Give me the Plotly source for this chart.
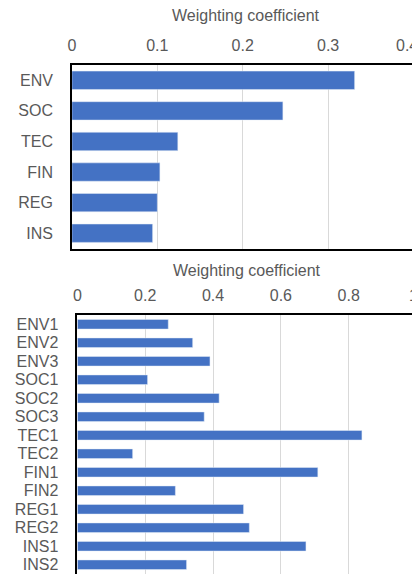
import plotly.graph_objects as go

dims = ["ENV", "SOC", "TEC", "FIN", "REG", "INS"]
dim_w = [0.331, 0.247, 0.124, 0.103, 0.100, 0.0945]

subs = ["ENV1", "ENV2", "ENV3", "SOC1", "SOC2", "SOC3", "TEC1", "TEC2",
        "FIN1", "FIN2", "REG1", "REG2", "INS1", "INS2"]
sub_w = [0.268, 0.340, 0.391, 0.207, 0.418, 0.374, 0.839, 0.163,
         0.709, 0.289, 0.490, 0.507, 0.674, 0.322]

top_ticks = [0, 0.1, 0.2, 0.3, 0.4]
bot_ticks = [0, 0.2, 0.4, 0.6, 0.8, 1]
axis_title = "Weighting coefficient"

BLUE = "#4472C4"
GRAY = "#595959"
FONT = "Liberation Sans, Arial, sans-serif"
FS = 16

fig = go.Figure()
fig.add_trace(go.Bar(y=dims, x=dim_w, orientation="h", marker_color=BLUE,
                     width=0.6, xaxis="x", yaxis="y", showlegend=False))
fig.add_trace(go.Bar(y=subs, x=sub_w, orientation="h", marker_color=BLUE,
                     width=0.52, xaxis="x2", yaxis="y2", showlegend=False))

# page body has an 8px margin; figure is placed at (8, 8)
OFF = 8
W, H = 420 - OFF, 574 - OFF

def px_x(p):
    return (p - OFF) / W

def px_y(p):
    return 1 - (p - OFF) / H

tfont = dict(family=FONT, size=FS, color=GRAY)
xcommon = dict(side="top", showgrid=True, gridcolor="#d9d9d9", gridwidth=1,
               zeroline=False, showline=True, linecolor="black", linewidth=1.5,
               tickfont=tfont, ticks="", ticklabelstandoff=6)
ycommon = dict(autorange="reversed", showgrid=False, zeroline=False,
               showline=True, linecolor="black", linewidth=1.5, mirror=True,
               tickfont=tfont, ticks="", ticklabelstandoff=14,
               tickmode="linear", dtick=1)

# last tick labels sit at the right page edge; plotly hides them there,
# so they are written as edge-anchored text instead
edge_labels = [
    dict(text=f"{top_ticks[-1]:g}", x=1, y=px_y(45), xanchor="right"),
    dict(text=f"{bot_ticks[-1]:g}", x=1, y=px_y(295), xanchor="right"),
]

annotations = [
    dict(text=axis_title, x=px_x(244), y=px_y(16), xanchor="center"),
    dict(text=axis_title, x=px_x(245), y=px_y(270), xanchor="center"),
] + edge_labels
for a in annotations:
    a.update(xref="paper", yref="paper", showarrow=False, yanchor="middle",
             font=tfont)

fig.update_layout(
    width=W, height=H,
    margin=dict(l=0, r=0, t=0, b=0),
    paper_bgcolor="white", plot_bgcolor="white",
    font=dict(family=FONT, color=GRAY, size=FS),
    xaxis=dict(domain=[px_x(68.5), px_x(413.5)], anchor="y", range=[0, 0.4],
               tickvals=top_ticks, mirror=True, **xcommon),
    yaxis=dict(domain=[px_y(248.5), px_y(65)], anchor="x", **ycommon),
    xaxis2=dict(domain=[px_x(74), px_x(416.5)], anchor="y2", range=[0, 1],
                tickvals=bot_ticks, mirror=False, **xcommon),
    yaxis2=dict(domain=[0, px_y(315)], anchor="x2", **ycommon),
    annotations=annotations,
)

fig.write_html("out.html", config={"displayModeBar": False})
